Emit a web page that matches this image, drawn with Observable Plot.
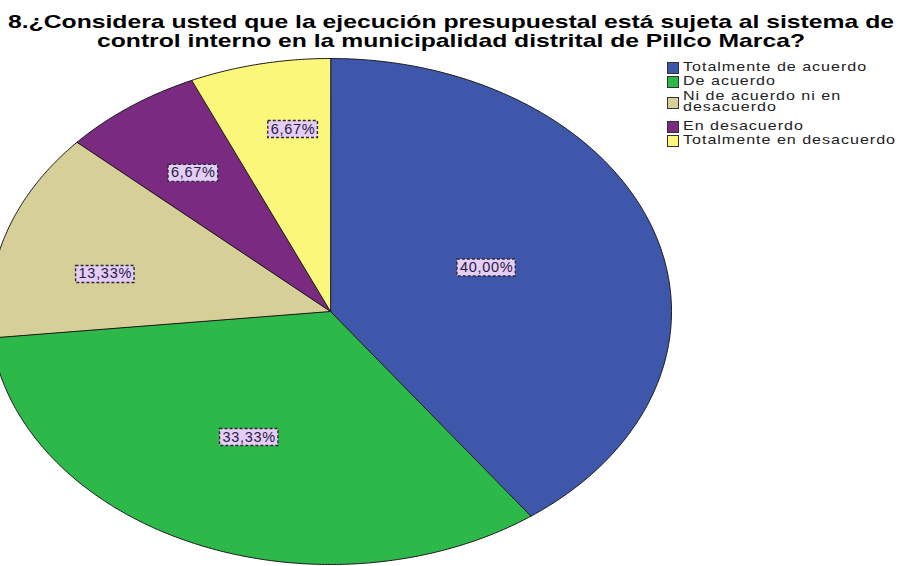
<!DOCTYPE html>
<html>
<head>
<meta charset="utf-8">
<script src="https://cdn.jsdelivr.net/npm/d3@7"></script>
<script src="https://cdn.jsdelivr.net/npm/@observablehq/plot@0.6"></script>
<style>
  html, body { margin: 0; padding: 0; background: #fff; overflow: hidden; }
  #wrap { position: relative; width: 900px; height: 566px; font-family: "Liberation Sans", Arial, sans-serif; }
  #chart { position: absolute; left: 0; top: 0; }
  .title { position: absolute; white-space: nowrap; font-weight: bold; font-size: 19px; line-height: 19px; color: #000; transform-origin: 0 0; }
  .lg-sq { position: absolute; width: 10px; height: 10px; border: 1px solid #333; }
  .lg-tx { position: absolute; white-space: pre; font-size: 13px; line-height: 11px; letter-spacing: 0.8px; color: #222; transform-origin: 0 0; }
  #chart g[aria-label="text"] text { letter-spacing: 0.7px; }
</style>
</head>
<body>
<div id="wrap">
  <div id="chart"></div>
</div>
<script>
// ---- data ----
const categories = ["Totalmente de acuerdo", "De acuerdo", "Ni de acuerdo ni en desacuerdo", "En desacuerdo", "Totalmente en desacuerdo"];
const legendLabels = ["Totalmente de acuerdo", "De acuerdo", "Ni de acuerdo ni en\ndesacuerdo", "En desacuerdo", "Totalmente en desacuerdo"];
const percentages = [40.00, 33.33, 13.33, 6.67, 6.67];
const valueLabels = ["40,00%", "33,33%", "13,33%", "6,67%", "6,67%"];
const titleLines = ["8.¿Considera usted que la ejecución presupuestal está sujeta al sistema de", "control interno en la municipalidad distrital de Pillco Marca?"];

// ---- styling / layout ----
const colors = ["#3f57aa", "#2db84a", "#d6cf98", "#7a2a80", "#fbf77a"];
const cx = 330, cy = 311, rx = 341, ry = 253;
// label placement inside each slice: position along slice (0..1) and radius fraction
const labelAlong = [0.48, 0.514, 0.39, 0.49, 0.64];
const labelRadius = [0.49, 0.55, 0.677, 0.68, 0.73];

// ---- build slice polygons from the data ----
const total = d3.sum(percentages);
const pts = [];
const labelPts = [];
let cum = 0;
percentages.forEach((v, i) => {
  const a0 = cum / total * 2 * Math.PI;
  const a1 = (cum + v) / total * 2 * Math.PI;
  pts.push({cat: categories[i], x: 0, y: 0});
  const n = Math.max(2, Math.ceil((a1 - a0) / (Math.PI / 360)));
  for (let k = 0; k <= n; k++) {
    const a = a0 + (a1 - a0) * k / n;
    pts.push({cat: categories[i], x: Math.sin(a), y: Math.cos(a)});
  }
  const am = a0 + (a1 - a0) * labelAlong[i];
  labelPts.push({label: valueLabels[i], x: labelRadius[i] * Math.sin(am), y: labelRadius[i] * Math.cos(am)});
  cum += v;
});

const plot = Plot.plot({
  width: 900,
  height: 566,
  margin: 0,
  style: {background: "transparent", fontFamily: "Liberation Sans, Arial, sans-serif", overflow: "visible"},
  x: {domain: [-1, 1], range: [cx - rx, cx + rx], axis: null},
  y: {domain: [-1, 1], range: [cy + ry, cy - ry], axis: null},
  color: {domain: categories, range: colors},
  marks: [
    Plot.line(pts, {x: "x", y: "y", z: "cat", fill: "cat", stroke: "#1a1a1a", strokeWidth: 1, curve: "linear-closed"}),
    Plot.text(labelPts, {x: "x", y: "y", text: "label", fontSize: 14.5, fill: "#2a1a40"})
  ]
});
document.getElementById("chart").appendChild(plot);

// dashed lavender boxes behind value labels
plot.querySelectorAll('g[aria-label="text"] text').forEach(t => {
  const b = t.getBBox();
  const r = document.createElementNS("http://www.w3.org/2000/svg", "rect");
  r.setAttribute("x", b.x - 3);
  r.setAttribute("y", b.y);
  r.setAttribute("width", b.width + 5);
  r.setAttribute("height", b.height + 1);
  r.setAttribute("fill", "#e4cdf6");
  r.setAttribute("stroke", "#2b2b2b");
  r.setAttribute("stroke-width", "1.4");
  r.setAttribute("stroke-dasharray", "3,2");
  if (t.getAttribute("transform")) r.setAttribute("transform", t.getAttribute("transform"));
  t.parentNode.insertBefore(r, t);
});

// ---- title ----
const wrap = document.getElementById("wrap");
function addFitted(cls, text, left, top, width) {
  const d = document.createElement("div");
  d.className = cls;
  d.textContent = text;
  d.style.left = left + "px";
  d.style.top = top + "px";
  wrap.appendChild(d);
  const w = d.getBoundingClientRect().width;
  d.style.transform = `scaleX(${width / w})`;
  return d;
}
addFitted("title", titleLines[0], 8, 28 - 16.1, 886);
addFitted("title", titleLines[1], 97, 47 - 16.1, 708);

// ---- legend ----
const sqTops = [62, 76, 97, 121, 135];
const txBaselines = [71, 85, 100, 130, 144];
// common horizontal stretch measured from the widest entry
const probe = document.createElement("div");
probe.className = "lg-tx";
probe.textContent = legendLabels[4];
wrap.appendChild(probe);
const sx = 213 / probe.getBoundingClientRect().width;
probe.remove();
categories.forEach((c, i) => {
  const s = document.createElement("div");
  s.className = "lg-sq";
  s.style.left = "667px";
  s.style.top = sqTops[i] + "px";
  s.style.background = colors[i];
  wrap.appendChild(s);
  const d = document.createElement("div");
  d.className = "lg-tx";
  d.textContent = legendLabels[i];
  d.style.left = "683px";
  d.style.top = (txBaselines[i] - 10) + "px";
  d.style.transform = `scaleX(${sx})`;
  wrap.appendChild(d);
});
</script>
</body>
</html>
